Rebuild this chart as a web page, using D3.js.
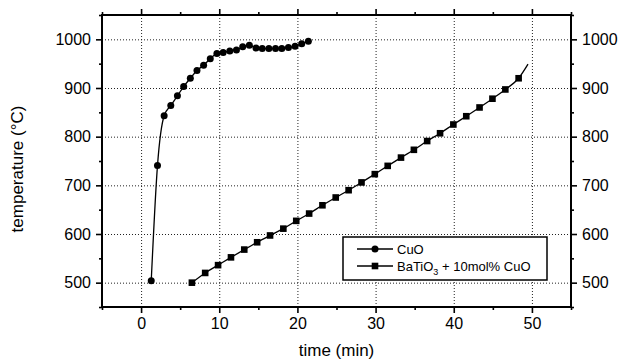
<!DOCTYPE html>
<html>
<head>
<meta charset="utf-8">
<script src="https://cdn.jsdelivr.net/npm/d3@7"></script>
<style>
  body { margin: 0; background: #fff; }
  svg { display: block; font-family: Arial, "Liberation Sans", sans-serif; }
  .grid line { stroke: #222; stroke-width: 1; stroke-dasharray: 1,2; }
  .frame { fill: none; stroke: #000; stroke-width: 2; }
</style>
</head>
<body>
<script>
// CuO heating curve
var cuoTime = [1.3, 2.1, 2.95, 3.8, 4.65, 5.45, 6.3, 7.15, 8.0, 8.85, 9.7, 10.5, 11.35,
               12.2, 13.0, 13.85, 14.7, 15.5, 16.35, 17.2, 18.0, 18.85, 19.7, 20.55, 21.4];
var cuoTemp = [504, 741, 843, 864, 884, 903, 920, 936, 947, 960, 971, 973, 976,
               978, 985, 988, 982, 981, 981, 981, 981, 983, 986, 991, 996];

// BaTiO3 + 10mol% CuO heating curve
var baTime = [6.5, 8.2, 9.85, 11.5, 13.2, 14.85, 16.5, 18.2, 19.85, 21.5, 23.2, 24.9, 26.55,
              28.2, 29.9, 31.55, 33.25, 34.9, 36.6, 38.25, 39.95, 41.6, 43.3, 44.95, 46.6, 48.3];
var baTemp = [500, 520, 536, 552, 568, 583, 597, 611, 627, 642, 659, 675, 690,
              706, 723, 740, 757, 773, 791, 807, 825, 842, 860, 878, 897, 920];
// the fitted line runs on a little past the last marker
var baCurveEnd = [49.5, 949];

var xTicks = [0, 10, 20, 30, 40, 50];
var xMinorTicks = [-5, 5, 15, 25, 35, 45, 55];
var yTicks = [500, 600, 700, 800, 900, 1000];
var yMinorTicks = [450, 550, 650, 750, 850, 950, 1050];

var legendLabels = ["CuO", "BaTiO3 + 10mol% CuO"];

const WIDTH = 620;
const HEIGHT = 361;
const LEFT = 102, RIGHT = 571, TOP = 15, BOTTOM = 307;

var xScale = d3.scaleLinear().domain([-5, 55]).range([LEFT, RIGHT]);
var yScale = d3.scaleLinear().domain([450, 1050]).range([BOTTOM, TOP]);

var translate = function (x, y) {
  return "translate(" + x + "," + y + ")";
};

var zip = function (xs, ys) {
  return xs.map(function (x, i) { return { x: x, y: ys[i] }; });
};

var cuoData = zip(cuoTime, cuoTemp);
var baData = zip(baTime, baTemp);
var baLineData = baData.concat([{ x: baCurveEnd[0], y: baCurveEnd[1] }]);

var line = d3.line()
  .x(function (d) { return xScale(d.x); })
  .y(function (d) { return yScale(d.y); })
  .curve(d3.curveMonotoneX);

var svg = d3.select("body").append("svg")
  .attr("width", WIDTH)
  .attr("height", HEIGHT);

// dotted grid
var grid = svg.append("g").attr("class", "grid");
grid.selectAll(".vx").data(xTicks).enter().append("line")
  .attr("x1", function (d) { return xScale(d) + 0.5; })
  .attr("x2", function (d) { return xScale(d) + 0.5; })
  .attr("y1", TOP).attr("y2", BOTTOM);
grid.selectAll(".hy").data(yTicks).enter().append("line")
  .attr("y1", function (d) { return yScale(d) + 0.5; })
  .attr("y2", function (d) { return yScale(d) + 0.5; })
  .attr("x1", LEFT).attr("x2", RIGHT);

// axes on all four sides, major + minor ticks outward
var styleAxis = function (g) {
  g.select(".domain").remove();
  g.selectAll("line").attr("stroke", "#000").attr("stroke-width", 1.6);
  g.selectAll("text").attr("fill", "#000").style("font-size", "16px");
};

var addAxis = function (axisFn, scale, ticks, minor, pos, labels) {
  var major = axisFn(scale).tickValues(ticks).tickSize(6).tickPadding(labels ? 5 : 0)
    .tickFormat(labels ? d3.format("d") : "");
  var small = axisFn(scale).tickValues(minor).tickSize(3).tickFormat("");
  svg.append("g").attr("transform", pos).call(small).call(styleAxis);
  svg.append("g").attr("transform", pos).call(major).call(styleAxis);
};

addAxis(d3.axisBottom, xScale, xTicks, xMinorTicks, translate(0, BOTTOM), true);
addAxis(d3.axisTop, xScale, xTicks, xMinorTicks, translate(0, TOP), false);
addAxis(d3.axisLeft, yScale, yTicks, yMinorTicks, translate(LEFT, 0), true);
addAxis(d3.axisRight, yScale, yTicks, yMinorTicks, translate(RIGHT, 0), true);

svg.append("rect").attr("class", "frame")
  .attr("x", LEFT).attr("y", TOP)
  .attr("width", RIGHT - LEFT).attr("height", BOTTOM - TOP);

// series
svg.append("path").attr("d", line(cuoData))
  .attr("fill", "none").attr("stroke", "#000").attr("stroke-width", 1.3);
svg.append("path").attr("d", line(baLineData))
  .attr("fill", "none").attr("stroke", "#000").attr("stroke-width", 1.3);

svg.append("g").selectAll("circle").data(cuoData).enter().append("circle")
  .attr("cx", function (d) { return xScale(d.x); })
  .attr("cy", function (d) { return yScale(d.y); })
  .attr("r", 3.5).attr("fill", "#000");

svg.append("g").selectAll("rect").data(baData).enter().append("rect")
  .attr("x", function (d) { return xScale(d.x) - 3.3; })
  .attr("y", function (d) { return yScale(d.y) - 3.3; })
  .attr("width", 6.6).attr("height", 6.6).attr("fill", "#000");

// axis titles
svg.append("text")
  .attr("x", (LEFT + RIGHT) / 2).attr("y", 356)
  .attr("text-anchor", "middle").style("font-size", "17px")
  .text("time (min)");
svg.append("text")
  .attr("transform", translate(23, 169) + " rotate(-90)")
  .attr("text-anchor", "middle").style("font-size", "17px")
  .text("temperature (\u00B0C)");

// legend
var legend = svg.append("g").attr("transform", translate(343, 237));
legend.append("rect").attr("width", 204).attr("height", 43)
  .attr("fill", "#fff").attr("stroke", "#000").attr("stroke-width", 1.5);

legendLabels.forEach(function (label, i) {
  var y = 12 + i * 17;
  var row = legend.append("g").attr("transform", translate(0, y));
  row.append("line").attr("x1", 14).attr("x2", 50)
    .attr("stroke", "#000").attr("stroke-width", 1.3);
  if (i === 0) {
    row.append("circle").attr("cx", 32).attr("r", 3.5).attr("fill", "#000");
  } else {
    row.append("rect").attr("x", 28.7).attr("y", -3.3)
      .attr("width", 6.6).attr("height", 6.6).attr("fill", "#000");
  }
  var t = row.append("text").attr("x", 54).attr("y", 4.5).style("font-size", "13px");
  if (label.indexOf("BaTiO3") === 0) {
    t.append("tspan").text("BaTiO");
    t.append("tspan").attr("dy", 4).style("font-size", "9px").text("3");
    t.append("tspan").attr("dy", -4).text(label.slice(6));
  } else {
    t.text(label);
  }
});
</script>
</body>
</html>
